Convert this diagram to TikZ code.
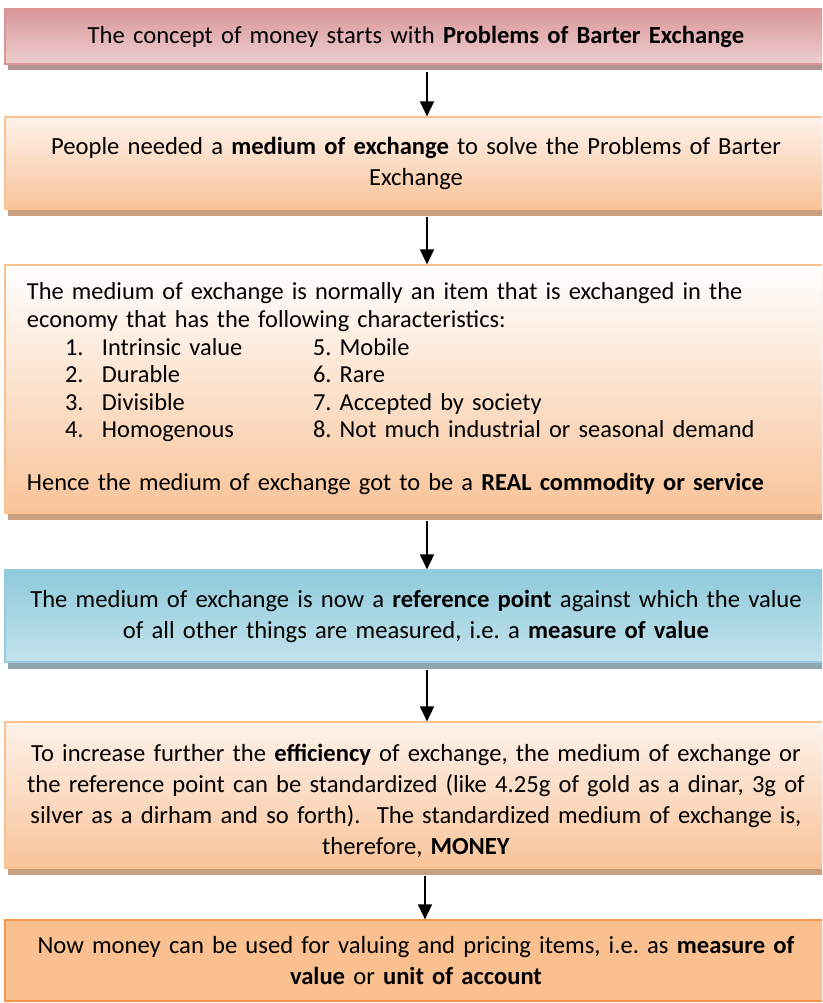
\documentclass[tikz,border=0pt]{standalone}
\usepackage{fontspec}
\setmainfont{Carlito}
\usetikzlibrary{shadows,arrows.meta}
\frenchspacing
\definecolor{redT}{HTML}{D9969A}
\definecolor{redM}{HTML}{F4DEDE}
\definecolor{redB}{HTML}{EECFCF}
\definecolor{redLine}{HTML}{D99694}
\definecolor{redSh}{HTML}{B39494}
\definecolor{peT}{HTML}{FEF2EA}
\definecolor{peM}{HTML}{FDE6D6}
\definecolor{peB}{HTML}{F9C49A}
\definecolor{peLine}{HTML}{FAC090}
\definecolor{peSh}{HTML}{C9A07F}
\definecolor{blT}{HTML}{8FCADB}
\definecolor{blM}{HTML}{D6ECF3}
\definecolor{blB}{HTML}{C2E3EC}
\definecolor{blLine}{HTML}{93CDDD}
\definecolor{blSh}{HTML}{8EA6AE}
\definecolor{orT}{HTML}{FAC090}
\definecolor{orM}{HTML}{F79646}
\definecolor{orLine}{HTML}{F79646}
\begin{document}
\frenchspacing
\begin{tikzpicture}[x=1pt,y=1pt,
  box/.style={draw, line width=1.2pt, minimum width=822pt, inner xsep=11pt, inner ysep=0pt,
    align=center, text width=800pt, font=\fontsize{24.6}{31}\selectfont},
  shd/.style={general shadow={fill=#1, shadow xshift=2.5pt, shadow yshift=-6.5pt}},
  arr/.style={line width=1.5pt, -{Triangle[width=14pt,length=15pt]}}
]
\useasboundingbox (0,0) rectangle (822,-1003);
\clip (0,0) rectangle (822,-1003);

\node[box, shd=redSh, draw=redLine, top color=redT, middle color=redM, bottom color=redB,
  minimum height=55pt] (b1) at (416,-36.5)
  {The concept of money starts with \textbf{Problems of Barter Exchange}};

\node[box, shd=peSh, draw=peLine, top color=peT, middle color=peM, bottom color=peB,
  minimum height=92pt] (b2) at (416,-163)
  {People needed a \textbf{medium of exchange} to solve the Problems of Barter\\Exchange};

\node[box, shd=peSh, draw=peLine, top color=white, middle color=peM, bottom color=peB,
  minimum height=248pt, align=left, text width=778pt, inner xsep=22pt,
  font=\fontsize{24.4}{27.6}\selectfont] (b3) at (416,-389)
  {The medium of exchange is normally an item that is exchanged in the\\
   economy that has the following characteristics:\\
   \hspace*{38pt}\makebox[37pt][l]{1.}\makebox[211pt][l]{Intrinsic value}5. Mobile\\
   \hspace*{38pt}\makebox[37pt][l]{2.}\makebox[211pt][l]{Durable}6. Rare\\
   \hspace*{38pt}\makebox[37pt][l]{3.}\makebox[211pt][l]{Divisible}7. Accepted by society\\
   \hspace*{38pt}\makebox[37pt][l]{4.}\makebox[211pt][l]{Homogenous}8. Not much industrial or seasonal demand\\[25.4pt]
   Hence the medium of exchange got to be a \textbf{REAL commodity or service}};

\node[box, shd=blSh, draw=blLine, top color=blT, middle color=blM, bottom color=blB,
  minimum height=92pt] (b4) at (416,-616)
  {The medium of exchange is now a \textbf{reference point} against which the value\\
   of all other things are measured, i.e. a \textbf{measure of value}};

\node[box, shd=peSh, draw=peLine, top color=peT, middle color=white, bottom color=peB,
  minimum height=146pt] (b5) at (416,-795)
  {\rule{0pt}{30pt}To increase further the \textbf{efficiency} of exchange, the medium of exchange or\\
   the reference point can be standardized (like 4.25g of gold as a dinar, 3g of\\
   silver as a dirham and so forth).~ The standardized medium of exchange is,\\
   therefore, \textbf{MONEY}};

\node[box, draw=orLine, top color=orT, middle color=orM, bottom color=orT,
  minimum height=81pt] (b6) at (416,-960.5)
  {Now money can be used for valuing and pricing items, i.e. as \textbf{measure of}\\
   \textbf{value} or \textbf{unit of account}};

\draw[arr] ([xshift=11pt,yshift=-7pt]b1.south) -- ([xshift=11pt]b2.north);
\draw[arr] ([xshift=11pt,yshift=-7pt]b2.south) -- ([xshift=11pt]b3.north);
\draw[arr] ([xshift=11pt,yshift=-7pt]b3.south) -- ([xshift=11pt]b4.north);
\draw[arr] ([xshift=11pt,yshift=-7pt]b4.south) -- ([xshift=11pt]b5.north);
\draw[arr] ([xshift=9pt,yshift=-7pt]b5.south) -- ([xshift=9pt]b6.north);
\end{tikzpicture}
\end{document}
